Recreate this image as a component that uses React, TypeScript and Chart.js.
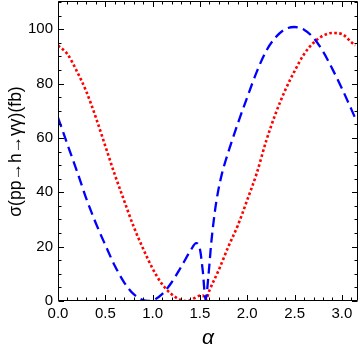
import React, { useEffect, useRef } from "react";
import { Chart, registerables } from "chart.js";

Chart.register(...registerables);

// Blue dashed curve
const alphaBlue = [
  0, 0.1, 0.2, 0.3, 0.4, 0.5, 0.6, 0.7, 0.8, 0.9, 0.95, 1.0, 1.1, 1.2, 1.3, 1.4, 1.46,
  1.5, 1.53, 1.56, 1.59, 1.62, 1.66, 1.69, 1.73, 1.77, 1.82, 1.9, 2.0, 2.1, 2.2, 2.3,
  2.4, 2.5, 2.6, 2.7, 2.8, 2.9, 3.0, 3.1, 3.1416,
];
const sigmaBlue = [
  67.5, 57.6, 47.8, 37.6, 28.6, 20.6, 13, 6.8, 2.5, 0.3, 0, 0.2, 2.5, 6.8, 12.5, 18.5, 21.3,
  19, 11, 0.5, 9.5, 21.6, 33.5, 40, 46.5, 51.5, 57, 65.3, 75, 84.3, 92, 97,
  100, 100.8, 99.8, 96.8, 91.8, 85.3, 78.2, 70.5, 67.2,
];

// Red dotted curve
const alphaRed = [
  0, 0.1, 0.2, 0.3, 0.4, 0.5, 0.6, 0.7, 0.8, 0.9, 1.0, 1.1, 1.2, 1.3, 1.35, 1.4, 1.45,
  1.5, 1.53, 1.56, 1.6, 1.7, 1.8, 1.9, 2.0, 2.1, 2.2, 2.3, 2.4, 2.5, 2.6, 2.7, 2.8,
  2.9, 3.0, 3.1, 3.1416,
];
const sigmaRed = [
  94, 90.8, 84.5, 77, 67.5, 57, 46.5, 36.8, 27.3, 19.2, 11.9, 6.2, 2.5, 0.3, 0, 0.3, 1.2,
  2.0, 2.1, 0.3, 3.9, 11.5, 20, 27.8, 37.2, 47, 58.9, 69, 77.5, 84.6, 90.8, 95, 97.6,
  98.6, 98.2, 95.2, 94,
];

const xTickValues = [0, 0.5, 1.0, 1.5, 2.0, 2.5, 3.0];
const yTickValues = [0, 20, 40, 60, 80, 100];
const xMinorStep = 0.1;
const yMinorStep = 5;

const FONT = "'Liberation Sans', Arial, sans-serif";

const frameTicks = {
  id: "frameTicks",
  afterDatasetsDraw(chart: any) {
    const { ctx, chartArea, scales } = chart;
    const { left, right, top, bottom } = chartArea;
    const xs = scales.x;
    const ys = scales.y;
    const L = Math.round(left) + 0.5;
    const R = Math.round(right) - 0.5;
    const T = Math.round(top) - 0.5;
    const B = Math.round(bottom) - 0.5;
    ctx.save();
    ctx.strokeStyle = "#000";
    ctx.lineWidth = 1;
    ctx.beginPath();
    ctx.rect(L, T, R - L, B - T);
    const major = 5.5;
    const minor = 3;
    const isMajor = (v: number, arr: number[]) => arr.some((a) => Math.abs(a - v) < 1e-6);
    for (let i = 0; i * xMinorStep <= xs.max + 1e-9; i++) {
      const v = i * xMinorStep;
      const px = Math.round(xs.getPixelForValue(v)) + 0.5;
      const len = isMajor(v, xTickValues) ? major : minor;
      ctx.moveTo(px, B);
      ctx.lineTo(px, B - len);
      ctx.moveTo(px, T);
      ctx.lineTo(px, T + len);
    }
    for (let i = 0; i * yMinorStep <= ys.max + 1e-9; i++) {
      const v = i * yMinorStep;
      const py = Math.round(ys.getPixelForValue(v)) + 0.5;
      const len = isMajor(v, yTickValues) ? major : minor;
      ctx.moveTo(L, py);
      ctx.lineTo(L + len, py);
      ctx.moveTo(R, py);
      ctx.lineTo(R - len, py);
    }
    ctx.stroke();
    ctx.restore();
  },
};

export default function App() {
  const ref = useRef<HTMLCanvasElement | null>(null);
  useEffect(() => {
    document.body.style.margin = "0";
    const canvas = ref.current;
    if (!canvas) return;
    const chart = new Chart(canvas, {
      type: "line",
      data: {
        datasets: [
          {
            data: alphaBlue.map((a, i) => ({ x: a, y: sigmaBlue[i] })),
            borderColor: "#0000ff",
            borderWidth: 2.3,
            borderDash: [10, 5.5],
            pointRadius: 0,
            fill: false,
            cubicInterpolationMode: "monotone",
          },
          {
            data: alphaRed.map((a, i) => ({ x: a, y: sigmaRed[i] })),
            borderColor: "#ff0000",
            borderWidth: 2.6,
            borderDash: [2.6, 2.4],
            pointRadius: 0,
            fill: false,
            cubicInterpolationMode: "monotone",
          },
        ],
      },
      options: {
        animation: false,
        responsive: false,
        maintainAspectRatio: false,
        parsing: false as any,
        layout: { padding: { top: 2, right: 2, left: 0, bottom: 0 } },
        plugins: { legend: { display: false }, tooltip: { enabled: false } },
        scales: {
          x: {
            type: "linear",
            min: 0,
            max: 3.17,
            afterBuildTicks: (s: any) => {
              s.ticks = xTickValues.map((v) => ({ value: v }));
            },
            afterFit: (s: any) => {
              s.height = 48;
              s.paddingLeft = 0;
              s.paddingRight = 0;
            },
            ticks: {
              callback: (v: any) => Number(v).toFixed(1),
              font: { family: FONT, size: 15 },
              color: "#000",
              padding: 4,
              maxRotation: 0,
              autoSkip: false,
            },
            grid: { display: false, drawTicks: false },
            border: { display: false },
            title: {
              display: true,
              text: "α",
              font: { family: FONT, size: 21, style: "italic" },
              color: "#000",
              padding: { top: 0, bottom: -2 },
            },
          },
          y: {
            type: "linear",
            min: 0,
            max: 110,
            afterBuildTicks: (s: any) => {
              s.ticks = yTickValues.map((v) => ({ value: v }));
            },
            afterFit: (s: any) => {
              s.width = 58;
              s.paddingTop = 0;
              s.paddingBottom = 0;
            },
            ticks: {
              callback: (v: any) => String(v),
              font: { family: FONT, size: 15 },
              color: "#000",
              padding: 5,
              autoSkip: false,
            },
            grid: { display: false, drawTicks: false },
            border: { display: false },
            title: {
              display: true,
              text: "σ(pp→h→γγ)(fb)",
              font: { family: FONT, size: 17.5 },
              color: "#000",
              padding: { top: 6, bottom: 0 },
            },
          },
        },
      },
      plugins: [frameTicks],
    });
    return () => chart.destroy();
  }, []);
  return (
    <div style={{ width: 360, height: 349 }}>
      <canvas ref={ref} width={360} height={349} style={{ display: "block" }} />
    </div>
  );
}
